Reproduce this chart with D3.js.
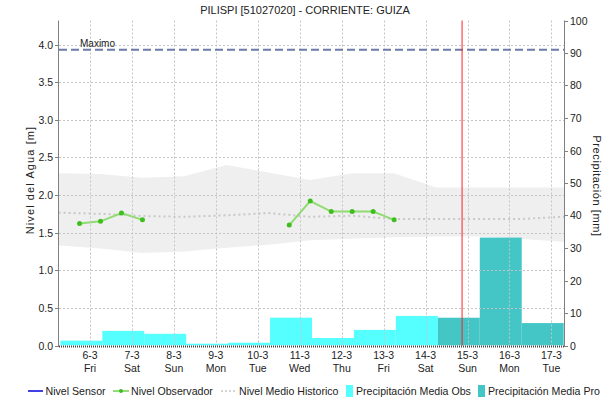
<!DOCTYPE html>
<html>
<head>
<meta charset="utf-8">
<script src="https://cdn.jsdelivr.net/npm/d3@7"></script>
<style>
  html, body { margin: 0; padding: 0; background: #fff; }
  svg { display: block; font-family: "Liberation Sans", Arial, sans-serif; }
</style>
</head>
<body>
<svg id="chart" width="610" height="402"></svg>
<script>
// ---------- DATA ----------
const title = "PILISPI [51027020] - CORRIENTE: GUIZA";
const dayLabels = ["6-3","7-3","8-3","9-3","10-3","11-3","12-3","13-3","14-3","15-3","16-3","17-3"];
const weekdayLabels = ["Fri","Sat","Sun","Mon","Tue","Wed","Thu","Fri","Sat","Sun","Mon","Tue"];
const levelTicks = [0.0,0.5,1.0,1.5,2.0,2.5,3.0,3.5,4.0];
const precipTicks = [0,10,20,30,40,50,60,70,80,90,100];

// precipitation per day (mm); observed days then forecast days
const precipObs = [1.5, 4.5, 3.6, 0.55, 0.85, 8.55, 2.3, 4.8, 9.1];
const precipPro = [8.55, 33.2, 6.9];

// observer level readings (days since 6-3 00:00, metres), two separate runs
const obsRun1T = [-0.25, 0.25, 0.75, 1.25];
const obsRun1V = [1.62, 1.65, 1.76, 1.67];
const obsRun2T = [4.75, 5.25, 5.75, 6.25, 6.75, 7.25];
const obsRun2V = [1.60, 1.92, 1.78, 1.78, 1.78, 1.67];

// historic level (days since 6-3 00:00)
const histT     = [-0.75, 0.25, 1.25, 2.25, 3.25, 4.25, 5.25, 6.25, 7.25, 8.25, 9.25, 10.25, 11.25, 11.35];
const histUpper = [2.29, 2.28, 2.23, 2.25, 2.40, 2.30, 2.20, 2.29, 2.29, 2.10, 2.10, 2.10, 2.10, 2.10];
const histLower = [1.33, 1.29, 1.23, 1.25, 1.30, 1.34, 1.40, 1.42, 1.44, 1.45, 1.45, 1.42, 1.38, 1.38];
const histMean  = [1.765,1.75, 1.72, 1.71, 1.73, 1.76, 1.71, 1.725,1.68, 1.68, 1.68, 1.68, 1.71, 1.71];

const maximo = 3.93;
const nowT = 8.87;

// ---------- LAYOUT ----------
const svg = d3.select("#chart");
const L = 59, R = 564, T = 20.5, B = 345.5;

const x = d3.scaleLinear().domain([-0.74, 11.3]).range([L, R]);
const yL = d3.scaleLinear().domain([0, (B - T) / 75.25]).range([B, T]);
const yR = d3.scaleLinear().domain([0, 100]).range([B, T]);

svg.append("defs").append("clipPath").attr("id", "clip")
  .append("rect").attr("x", L).attr("y", T).attr("width", R - L).attr("height", B - T);

const plot = svg.append("g").attr("clip-path", "url(#clip)");

// historic band
plot.append("path")
  .datum(histT.map((t, i) => [t, histLower[i], histUpper[i]]))
  .attr("fill", "#efefef")
  .attr("d", d3.area().x(d => x(d[0])).y0(d => yL(d[1])).y1(d => yL(d[2])));

// gridlines
const grid = svg.append("g");
grid.selectAll("line.h").data(levelTicks.filter(v => v > 0)).join("line")
  .attr("x1", L).attr("x2", R)
  .attr("y1", d => Math.round(yL(d)) + 0.5).attr("y2", d => Math.round(yL(d)) + 0.5)
  .attr("stroke", "#c4c4c4").attr("stroke-dasharray", "2,2");
grid.selectAll("line.v").data(dayLabels.map((d, i) => i)).join("line")
  .attr("x1", d => Math.round(x(d)) + 0.5).attr("x2", d => Math.round(x(d)) + 0.5)
  .attr("y1", T).attr("y2", B)
  .attr("stroke", "#c4c4c4").attr("stroke-dasharray", "2,2");

// historic mean
plot.append("path")
  .datum(histT.map((t, i) => [t, histMean[i]]))
  .attr("fill", "none").attr("stroke", "#c8c8c8").attr("stroke-width", 2)
  .attr("stroke-dasharray", "2,3")
  .attr("d", d3.line().x(d => x(d[0])).y(d => yL(d[1])));

// precipitation bars
const bars = precipObs.map((v, i) => ({i, v, c: "#55ffff"}))
  .concat(precipPro.map((v, j) => ({i: precipObs.length + j, v, c: "#44c6c6"})));
plot.selectAll("rect.bar").data(bars).join("rect")
  .attr("x", d => x(d.i - 0.708))
  .attr("width", d => x(d.i + 0.292) - x(d.i - 0.708))
  .attr("y", d => yR(d.v))
  .attr("height", d => B - yR(d.v))
  .attr("fill", d => d.c);

// maximo line
svg.append("line")
  .attr("x1", L).attr("x2", R).attr("y1", yL(maximo)).attr("y2", yL(maximo))
  .attr("stroke", "#6b7ca8").attr("stroke-width", 2).attr("stroke-dasharray", "8,4");
svg.append("text").attr("x", 80).attr("y", yL(maximo) - 2.5)
  .attr("font-size", 10).attr("fill", "#222").text("Maximo");

// observer runs
[[obsRun1T, obsRun1V], [obsRun2T, obsRun2V]].forEach(([ts, vs]) => {
  const pts = ts.map((t, i) => [t, vs[i]]);
  plot.append("path").datum(pts)
    .attr("fill", "none").attr("stroke", "#8fdc70").attr("stroke-width", 2)
    .attr("d", d3.line().x(d => x(d[0])).y(d => yL(d[1])));
  plot.selectAll(null).data(pts).join("circle")
    .attr("cx", d => x(d[0])).attr("cy", d => yL(d[1])).attr("r", 2.5)
    .attr("fill", "#3fbf1f");
});

// now line
svg.append("line")
  .attr("x1", x(nowT)).attr("x2", x(nowT)).attr("y1", T).attr("y2", B)
  .attr("stroke", "#ff2020").attr("stroke-width", 1);

// axes
const axisCol = "#808080";
svg.append("line").attr("x1", L - 0.5).attr("x2", L - 0.5).attr("y1", T).attr("y2", B + 1).attr("stroke", axisCol);
svg.append("line").attr("x1", R + 0.5).attr("x2", R + 0.5).attr("y1", T).attr("y2", B + 1).attr("stroke", axisCol);
svg.append("line").attr("x1", L).attr("x2", R).attr("y1", B + 1).attr("y2", B + 1)
  .attr("stroke", "#444").attr("stroke-width", 2).attr("stroke-dasharray", "1,1");

const leftAxis = svg.append("g");
levelTicks.forEach(v => {
  const yy = Math.round(yL(v)) + 0.5;
  leftAxis.append("line").attr("x1", L - 4).attr("x2", L).attr("y1", yy).attr("y2", yy).attr("stroke", axisCol);
  leftAxis.append("text").attr("x", L - 6).attr("y", yy + 3.5).attr("text-anchor", "end")
    .attr("font-size", 10.5).attr("fill", "#222").text(v.toFixed(1));
});
const rightAxis = svg.append("g");
precipTicks.forEach(v => {
  const yy = Math.round(yR(v)) + 0.5;
  rightAxis.append("line").attr("x1", R).attr("x2", R + 4).attr("y1", yy).attr("y2", yy).attr("stroke", axisCol);
  rightAxis.append("text").attr("x", R + 6).attr("y", yy + 3.5).attr("text-anchor", "start")
    .attr("font-size", 10.5).attr("fill", "#222").text(v);
});
const bottomAxis = svg.append("g");
dayLabels.forEach((lab, i) => {
  const xx = x(i);
  bottomAxis.append("text").attr("x", xx).attr("y", 359).attr("text-anchor", "middle")
    .attr("font-size", 10.5).attr("fill", "#222").text(lab);
  bottomAxis.append("text").attr("x", xx).attr("y", 372).attr("text-anchor", "middle")
    .attr("font-size", 10.5).attr("fill", "#222").text(weekdayLabels[i]);
});

// axis titles
svg.append("text").attr("transform", `translate(34,180) rotate(-90)`)
  .attr("text-anchor", "middle").attr("font-size", 11).attr("letter-spacing", 1.1)
  .attr("fill", "#222").text("Nivel del Agua [m]");
svg.append("text").attr("transform", `translate(593,186) rotate(90)`)
  .attr("text-anchor", "middle").attr("font-size", 11).attr("letter-spacing", 0.6)
  .attr("fill", "#222").text("Precipitación [mm]");

// title
svg.append("text").attr("x", 305).attr("y", 14).attr("text-anchor", "middle")
  .attr("font-size", 11).attr("fill", "#222").text(title);

// legend
const lg = svg.append("g").attr("font-size", 10.6).attr("fill", "#222");
const ly = 391;
lg.append("line").attr("x1", 28).attr("x2", 43).attr("y1", ly).attr("y2", ly).attr("stroke", "#0000dd").attr("stroke-width", 1.5);
lg.append("text").attr("x", 45.5).attr("y", ly + 4).text("Nivel Sensor");
lg.append("line").attr("x1", 113).attr("x2", 129).attr("y1", ly).attr("y2", ly).attr("stroke", "#6fcf4f").attr("stroke-width", 1.5);
lg.append("circle").attr("cx", 121).attr("cy", ly).attr("r", 2).attr("fill", "#3fbf1f");
lg.append("text").attr("x", 131).attr("y", ly + 4).text("Nivel Observador");
lg.append("line").attr("x1", 221).attr("x2", 237).attr("y1", ly).attr("y2", ly).attr("stroke", "#c8c8c8").attr("stroke-width", 1.5).attr("stroke-dasharray", "2,2");
lg.append("text").attr("x", 239).attr("y", ly + 4).text("Nivel Medio Historico");
lg.append("rect").attr("x", 346).attr("y", ly - 6).attr("width", 7).attr("height", 12).attr("fill", "#55ffff");
lg.append("text").attr("x", 356).attr("y", ly + 4).text("Precipitación Media Obs");
lg.append("rect").attr("x", 478).attr("y", ly - 6).attr("width", 7).attr("height", 12).attr("fill", "#44c6c6");
lg.append("text").attr("x", 488).attr("y", ly + 4).text("Precipitación Media Pro");
</script>
</body>
</html>
